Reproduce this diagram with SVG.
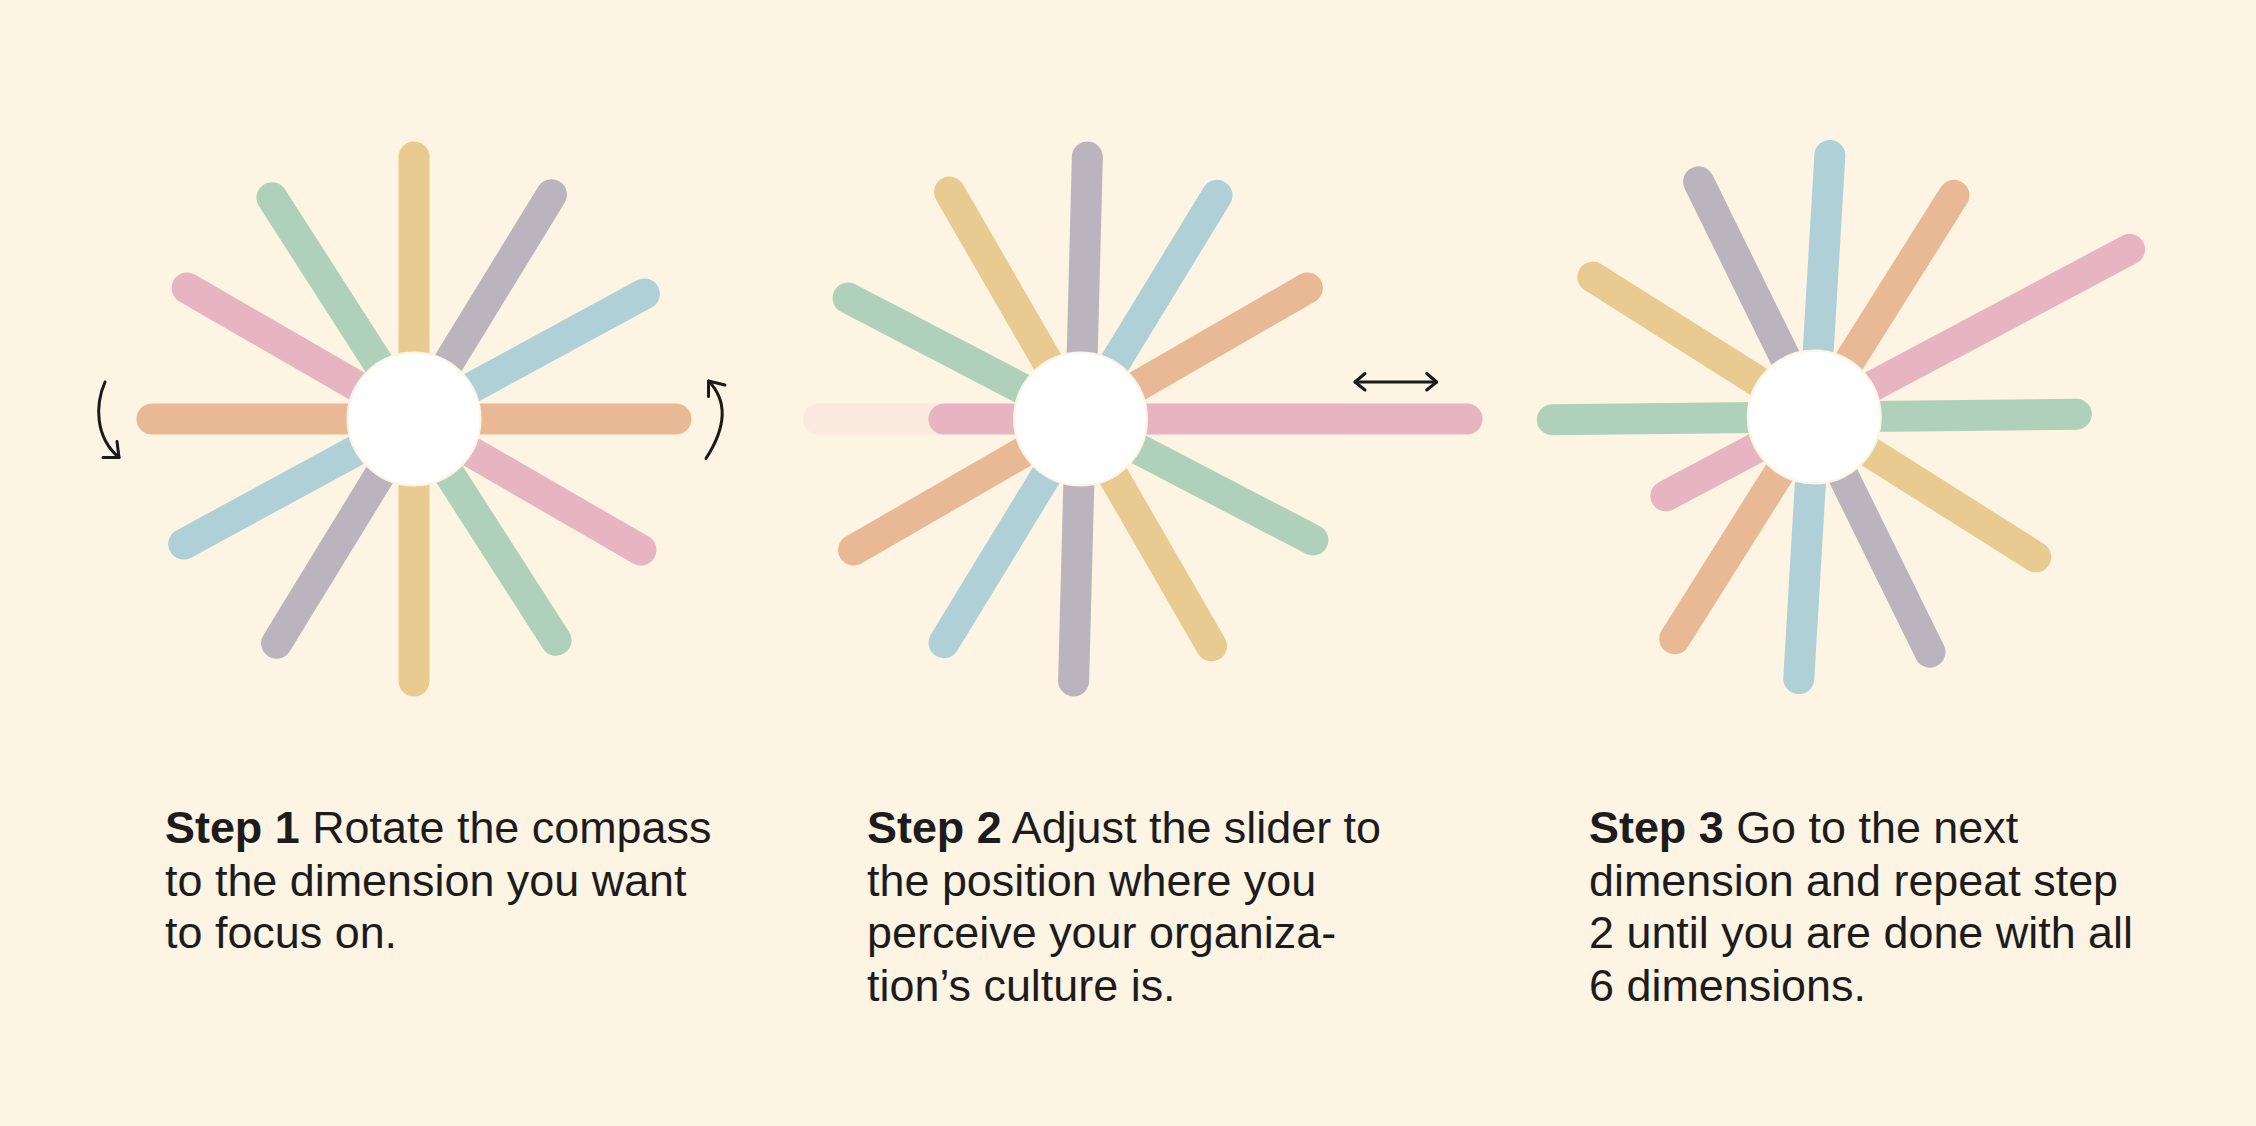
<svg xmlns="http://www.w3.org/2000/svg" width="2256" height="1126" viewBox="0 0 2256 1126">
<defs>
<style>
.sp{stroke-width:31;stroke-linecap:round;fill:none}
.or{stroke:#E9B996}.bl{stroke:#AFD0D6}.pu{stroke:#BBB3BD}.ye{stroke:#E9CA90}.gr{stroke:#AFD1B9}.pk{stroke:#E7B5C1}
.ghost{stroke:#E7B5C1;stroke-opacity:0.16}
.hub{fill:#FFFFFF;stroke:#FDF4E4;stroke-width:2}
.arr{stroke:#1A1A1A;stroke-width:3;fill:none;stroke-linecap:round;stroke-linejoin:round}
.t{font-family:"Liberation Sans",Arial,sans-serif;font-size:44.9px;fill:#1C1C1C}
.b{font-weight:bold}
</style>
</defs>
<rect x="0" y="0" width="2256" height="1126" fill="#FDF4E4"/>

<g id="compass1" transform="translate(414,419)">
<line class="sp or" x1="-262" y1="0" x2="262" y2="0"/>
<line class="sp bl" x1="-262" y1="0" x2="262" y2="0" transform="rotate(-28.5)"/>
<line class="sp pu" x1="-263" y1="0" x2="263" y2="0" transform="rotate(-58.5)"/>
<line class="sp ye" x1="-262" y1="0" x2="262" y2="0" transform="rotate(-90)"/>
<line class="sp gr" x1="-263" y1="0" x2="263" y2="0" transform="rotate(-122.7)"/>
<line class="sp pk" x1="-262" y1="0" x2="262" y2="0" transform="rotate(-150)"/>
<circle class="hub" cx="0" cy="0" r="66.5"/>
</g>

<g id="compass2" transform="translate(1080.5,419)">
<line class="sp or" x1="-262" y1="0" x2="262" y2="0" transform="rotate(-30)"/>
<line class="sp bl" x1="-262" y1="0" x2="262" y2="0" transform="rotate(-58.6)"/>
<line class="sp pu" x1="-262" y1="0" x2="262" y2="0" transform="rotate(-88.5)"/>
<line class="sp ye" x1="-262" y1="0" x2="262" y2="0" transform="rotate(-120)"/>
<line class="sp gr" x1="-262" y1="0" x2="262" y2="0" transform="rotate(-152.5)"/>
<line class="sp pk" x1="-136.5" y1="0" x2="386.5" y2="0"/>
<line class="sp ghost" x1="-262" y1="0" x2="262" y2="0"/>
<circle class="hub" cx="0" cy="0" r="66.5"/>
</g>

<g id="compass3" transform="translate(1814.3,417)">
<line class="sp gr" x1="-262" y1="0" x2="262" y2="0" transform="rotate(-0.6)"/>
<line class="sp pk" x1="-168" y1="0" x2="357" y2="0" transform="rotate(-28)"/>
<line class="sp or" x1="-262" y1="0" x2="262" y2="0" transform="rotate(-57.8)"/>
<line class="sp bl" x1="-262" y1="0" x2="262" y2="0" transform="rotate(-86.6)"/>
<line class="sp pu" x1="-262" y1="0" x2="262" y2="0" transform="rotate(-116.2)"/>
<line class="sp ye" x1="-262" y1="0" x2="262" y2="0" transform="rotate(-147.7)"/>
<circle class="hub" cx="0" cy="0" r="66.5"/>
</g>

<g id="connectors">
<path class="arr" d="M105,382 C95,405 95,437 119,457.5"/>
<path class="arr" d="M103,457.5 L119,457.5 L117,441.5"/>
<path class="arr" d="M706,458.5 C727,426 727,400 708.5,381"/>
<path class="arr" d="M708.5,396.5 L708.5,381 L725,385"/>
<path class="arr" d="M1355,382 L1436.7,382"/>
<path class="arr" d="M1365,373.5 L1355,382 L1365,390"/>
<path class="arr" d="M1426.7,373.5 L1436.7,382 L1426.7,390"/>
</g>

<g id="step1">
<text class="t" x="165" y="842.7"><tspan class="b">Step 1</tspan> Rotate the compass</text>
<text class="t" x="165" y="895.5">to the dimension you want</text>
<text class="t" x="165" y="948.3">to focus on.</text>
</g>
<g id="step2">
<text class="t" x="867" y="842.7"><tspan class="b">Step 2</tspan> Adjust the slider to</text>
<text class="t" x="867" y="895.5">the position where you</text>
<text class="t" x="867" y="948.3">perceive your organiza-</text>
<text class="t" x="867" y="1001.1">tion’s culture is.</text>
</g>
<g id="step3">
<text class="t" x="1589" y="842.7"><tspan class="b">Step 3</tspan> Go to the next</text>
<text class="t" x="1589" y="895.5">dimension and repeat step</text>
<text class="t" x="1589" y="948.3">2 until you are done with all</text>
<text class="t" x="1589" y="1001.1">6 dimensions.</text>
</g>
</svg>
